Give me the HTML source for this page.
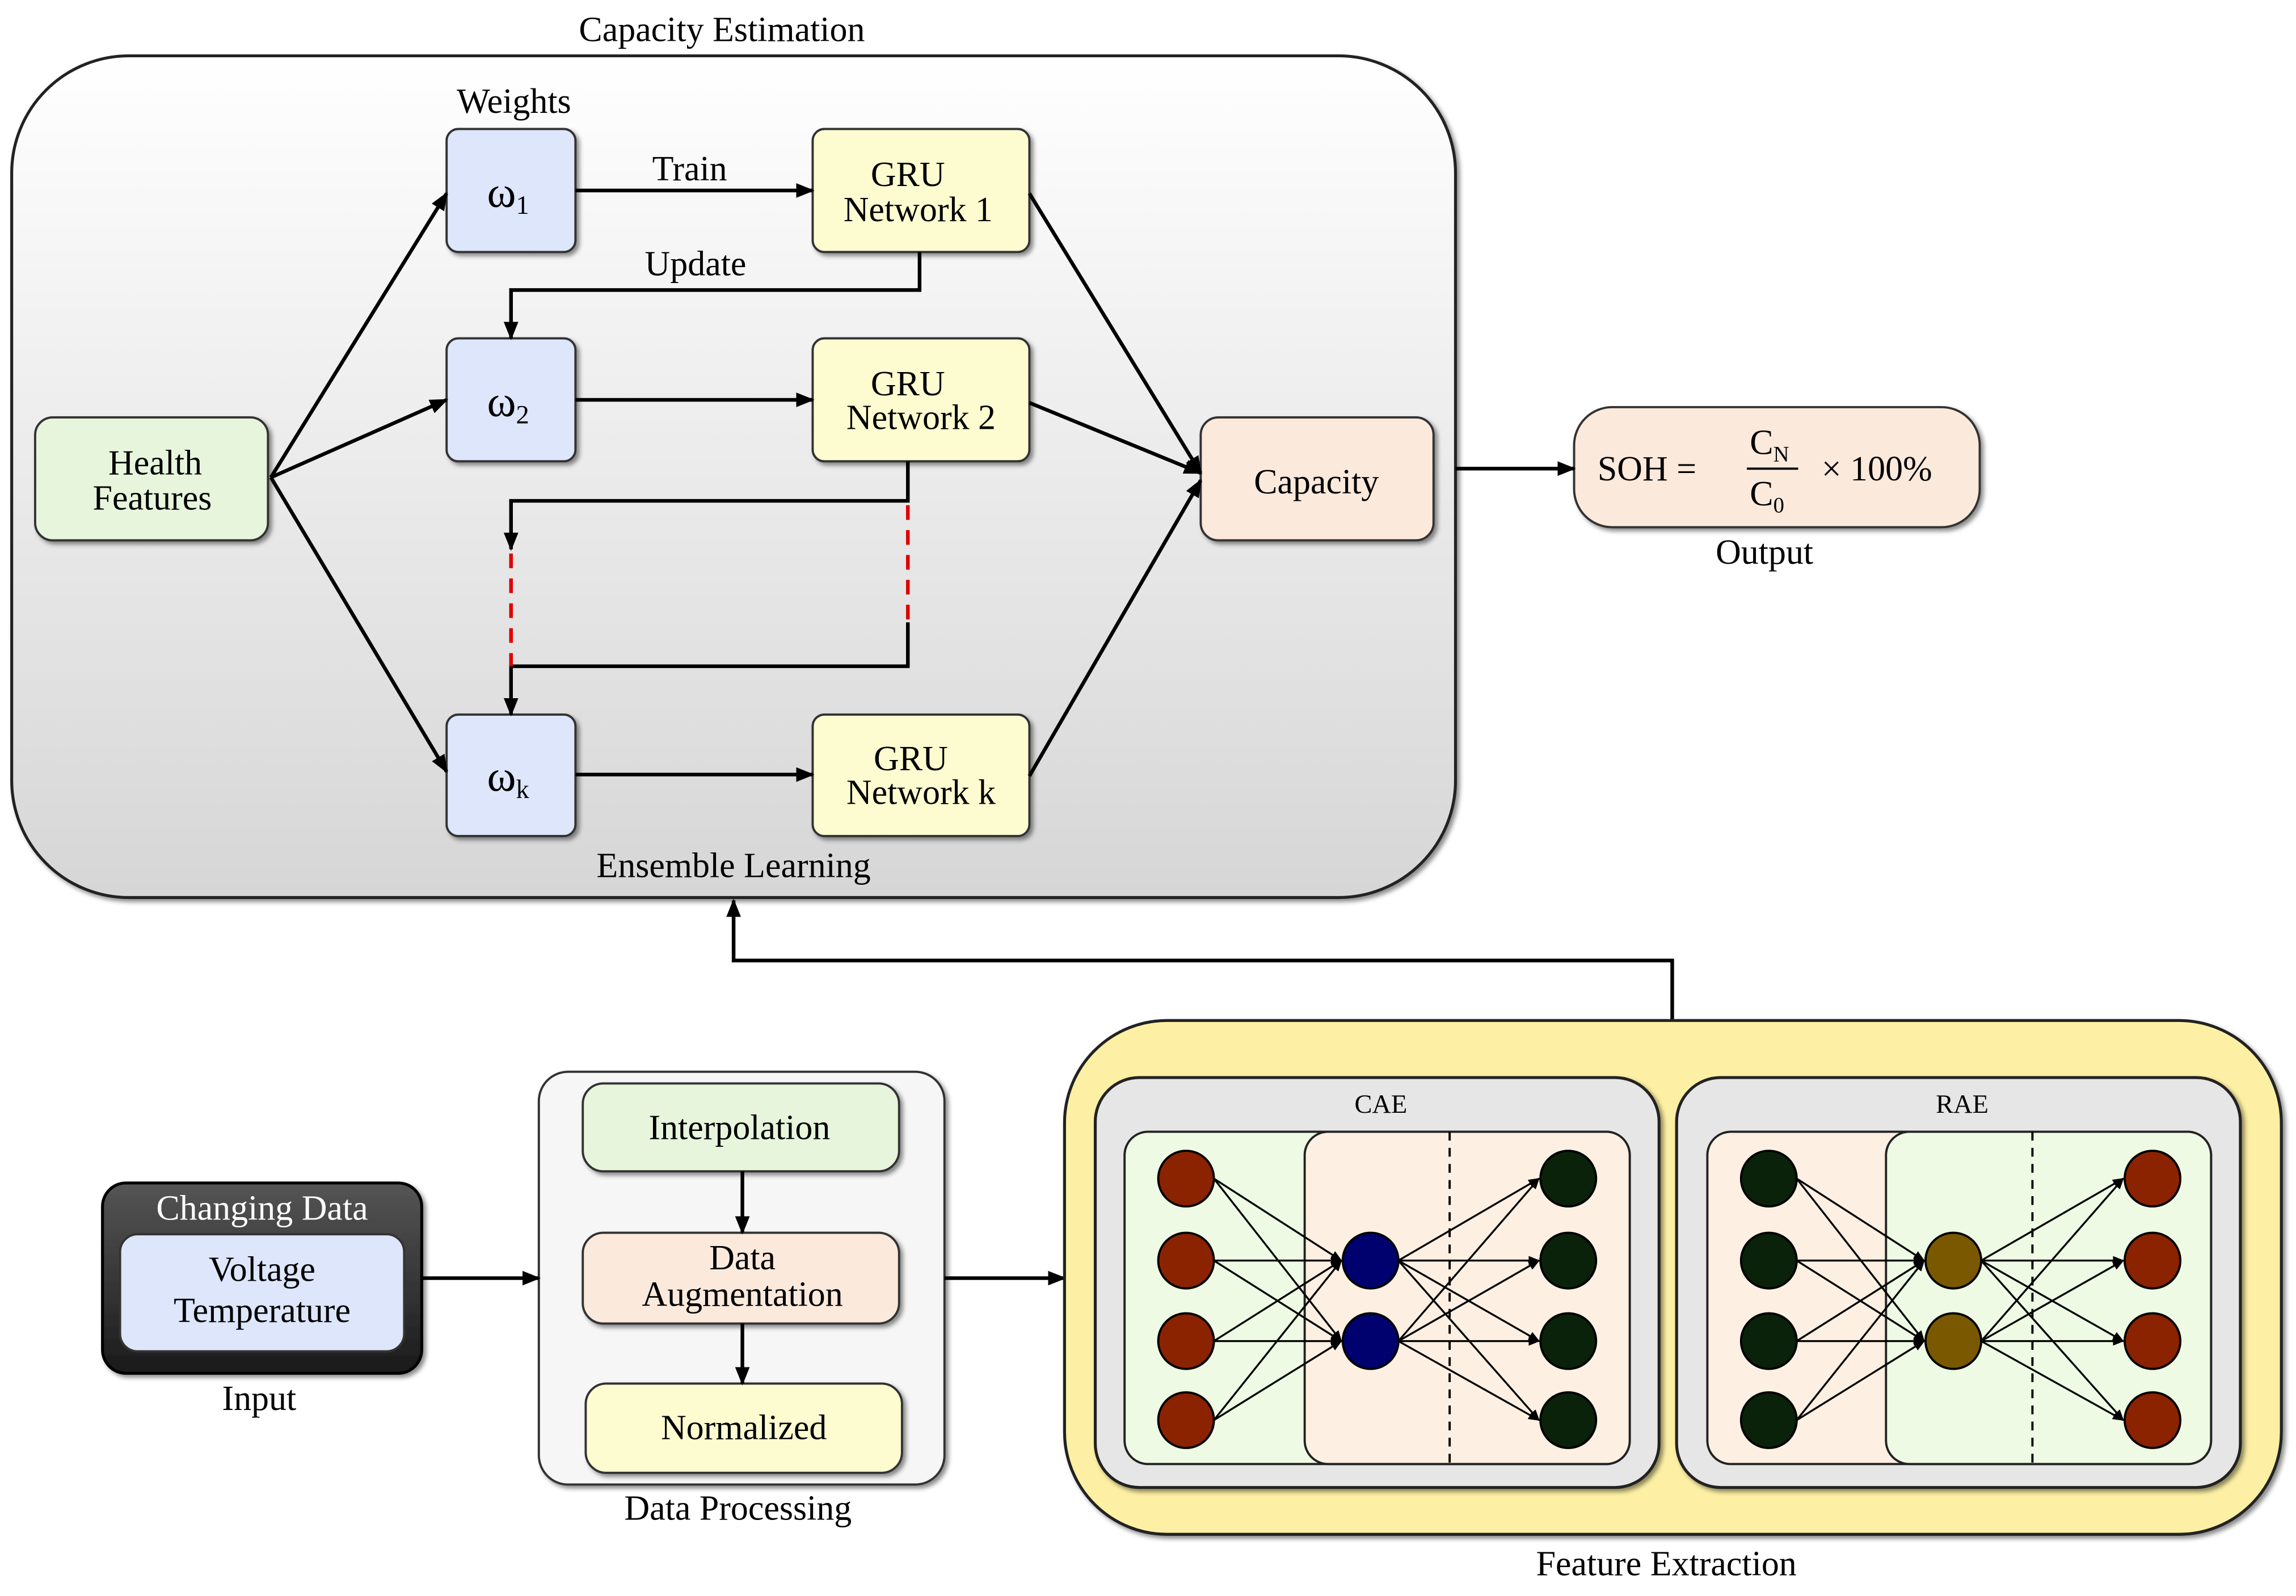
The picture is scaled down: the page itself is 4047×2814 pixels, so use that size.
<!DOCTYPE html>
<html><head><meta charset="utf-8"><style>
html,body{margin:0;padding:0;background:#fff;}
svg{display:block;}
text{font-family:"Liberation Serif",serif;fill:#000;}
</style></head><body>
<svg width="4047" height="2814" viewBox="0 0 1568 1090" xmlns="http://www.w3.org/2000/svg">
<defs>
<marker id="a" viewBox="0 0 10 10" refX="9" refY="5" markerWidth="5" markerHeight="5" orient="auto-start-reverse"><path d="M0,1 L10,5 L0,9 z" fill="#000"/></marker>
<marker id="s" viewBox="0 0 10 10" refX="9" refY="5" markerWidth="6" markerHeight="6" orient="auto"><path d="M0,1 L10,5 L0,9 z" fill="#000"/></marker>
<linearGradient id="big" x1="0" y1="0" x2="0" y2="1"><stop offset="0" stop-color="#ffffff"/><stop offset="1" stop-color="#d6d6d6"/></linearGradient>
<linearGradient id="dk" x1="0" y1="0" x2="0" y2="1"><stop offset="0" stop-color="#555"/><stop offset="1" stop-color="#1a1a1a"/></linearGradient>
<filter id="sh" x="-10%" y="-10%" width="130%" height="130%"><feDropShadow dx="2" dy="2" stdDeviation="1.5" flood-color="#000" flood-opacity="0.45"/></filter>
</defs>

<text x="493" y="28" font-size="24" text-anchor="middle">Capacity Estimation</text>
<rect x="8" y="38" width="986" height="575" rx="80" fill="url(#big)" stroke="#222" stroke-width="2" filter="url(#sh)"/>
<text x="351" y="77" font-size="24" text-anchor="middle">Weights</text>

<g stroke="#333" stroke-width="1.5" filter="url(#sh)">
<rect x="305" y="88" width="88" height="84" rx="8" fill="#dde6fb"/>
<rect x="305" y="231" width="88" height="84" rx="8" fill="#dde6fb"/>
<rect x="305" y="488" width="88" height="83" rx="8" fill="#dde6fb"/>
<rect x="555" y="88" width="148" height="84" rx="8" fill="#fdfcd0"/>
<rect x="555" y="231" width="148" height="84" rx="8" fill="#fdfcd0"/>
<rect x="555" y="488" width="148" height="83" rx="8" fill="#fdfcd0"/>
<rect x="24" y="285" width="159" height="84" rx="12" fill="#e6f5dc"/>
<rect x="820" y="285" width="159" height="84" rx="12" fill="#fbe9dc"/>
<rect x="1075" y="278" width="277" height="82" rx="26" fill="#fbe9dc"/>
</g>
<text x="347" y="141" font-size="30" text-anchor="middle">ω<tspan font-size="18" dy="5">1</tspan></text>
<text x="347" y="284" font-size="30" text-anchor="middle">ω<tspan font-size="18" dy="5">2</tspan></text>
<text x="347" y="540" font-size="30" text-anchor="middle">ω<tspan font-size="18" dy="5">k</tspan></text>
<g font-size="24" text-anchor="middle">
<text x="620" y="127">GRU</text><text x="627" y="151">Network 1</text>
<text x="620" y="270">GRU</text><text x="629" y="293">Network 2</text>
<text x="622" y="526">GRU</text><text x="629" y="549">Network k</text>
<text x="106" y="324">Health</text><text x="104" y="348">Features</text>
<text x="899" y="337">Capacity</text>
<text x="471" y="123">Train</text>
<text x="475" y="188">Update</text>
<text x="501" y="599">Ensemble Learning</text>
<text x="1205" y="385">Output</text>
</g>
<g font-size="24">
<text x="1091" y="328">SOH =</text>
<text x="1195" y="310">C<tspan font-size="15" dy="5">N</tspan></text>
<line x1="1193" y1="320" x2="1228" y2="320" stroke="#000" stroke-width="1.5"/>
<text x="1195" y="345">C<tspan font-size="15" dy="5">0</tspan></text>
<text x="1244" y="328">× 100%</text>
</g>

<!-- Input -->
<rect x="70" y="808" width="218" height="130" rx="16" fill="url(#dk)" stroke="#000" stroke-width="2" filter="url(#sh)"/>
<text x="179" y="833" font-size="24" text-anchor="middle" style="fill:#fff">Changing Data</text>
<rect x="82" y="843" width="194" height="80" rx="12" fill="#dde6fb" stroke="#333" stroke-width="1.5"/>
<text x="179" y="875" font-size="24" text-anchor="middle">Voltage</text>
<text x="179" y="903" font-size="24" text-anchor="middle">Temperature</text>
<text x="177" y="963" font-size="24" text-anchor="middle">Input</text>

<!-- Data processing -->
<rect x="368" y="732" width="277" height="282" rx="20" fill="#f6f6f6" stroke="#333" stroke-width="1.5" filter="url(#sh)"/>
<g stroke="#333" stroke-width="1.5" filter="url(#sh)">
<rect x="398" y="740" width="216" height="60" rx="14" fill="#e6f5dc"/>
<rect x="398" y="842" width="216" height="62" rx="14" fill="#fbe9dc"/>
<rect x="400" y="945" width="216" height="61" rx="14" fill="#fdfcd0"/>
</g>
<g font-size="24" text-anchor="middle">
<text x="505" y="778">Interpolation</text>
<text x="507" y="867">Data</text><text x="507" y="892">Augmentation</text>
<text x="508" y="983">Normalized</text>
<text x="504" y="1038">Data Processing</text>
<text x="1138" y="1076">Feature Extraction</text>
</g>

<g stroke="#000" stroke-width="2.5" fill="none" marker-end="url(#a)">
<line x1="185" y1="326" x2="305" y2="132"/>
<line x1="185" y1="326" x2="305" y2="273"/>
<line x1="185" y1="326" x2="305" y2="527"/>
<line x1="393" y1="130" x2="555" y2="130"/>
<line x1="393" y1="273" x2="555" y2="273"/>
<line x1="393" y1="529" x2="555" y2="529"/>
<polyline points="628,172 628,198 349,198 349,231"/>
<polyline points="620,425 620,455 349,455 349,488"/>
<line x1="703" y1="132" x2="820" y2="323"/>
<line x1="703" y1="275" x2="820" y2="323"/>
<line x1="703" y1="530" x2="820" y2="328"/>
<line x1="994" y1="320" x2="1075" y2="320"/>
<polyline points="1142,697 1142,656 501,656 501,615"/>
<line x1="288" y1="873" x2="368" y2="873"/>
<line x1="645" y1="873" x2="727" y2="873"/>
<line x1="507" y1="800" x2="507" y2="842"/>
<line x1="507" y1="904" x2="507" y2="945"/>
</g>
<polyline points="620,315 620,342 349,342 349,375" stroke="#000" stroke-width="2.5" fill="none" marker-end="url(#a)"/>
<line x1="349" y1="378" x2="349" y2="455" stroke="#d00" stroke-width="2.5" stroke-dasharray="10,7"/>
<line x1="620" y1="345" x2="620" y2="425" stroke="#d00" stroke-width="2.5" stroke-dasharray="10,7"/>

<!-- Feature extraction -->
<rect x="727" y="697" width="831" height="351" rx="70" fill="#fdf0a4" stroke="#222" stroke-width="2" filter="url(#sh)"/>
<g stroke="#222" stroke-width="2" filter="url(#sh)">
<rect x="748" y="736" width="385" height="280" rx="30" fill="#e6e6e6"/>
<rect x="1145" y="736" width="385" height="280" rx="30" fill="#e6e6e6"/>
</g>
<text x="943" y="760" font-size="18" text-anchor="middle">CAE</text>
<text x="1340" y="760" font-size="18" text-anchor="middle">RAE</text>
<g stroke="#222" stroke-width="1.5">
<rect x="768" y="773" width="345" height="227" rx="16" fill="#eefae4"/>
<rect x="891" y="773" width="222" height="227" rx="16" fill="#fdf0e2"/>
<rect x="1166" y="773" width="344" height="227" rx="16" fill="#fdf0e2"/>
<rect x="1288" y="773" width="222" height="227" rx="16" fill="#eefae4"/>
</g>
<line x1="990" y1="773" x2="990" y2="1000" stroke="#000" stroke-width="1.5" stroke-dasharray="6,5"/>
<line x1="1388" y1="773" x2="1388" y2="1000" stroke="#000" stroke-width="1.5" stroke-dasharray="6,5"/>

<g stroke="#000" stroke-width="1.3" marker-end="url(#s)">
<line x1="829" y1="805" x2="916" y2="861"/><line x1="829" y1="805" x2="916" y2="916"/>
<line x1="829" y1="861" x2="916" y2="861"/><line x1="829" y1="861" x2="916" y2="916"/>
<line x1="829" y1="916" x2="916" y2="861"/><line x1="829" y1="916" x2="916" y2="916"/>
<line x1="829" y1="970" x2="916" y2="861"/><line x1="829" y1="970" x2="916" y2="916"/>
<line x1="955" y1="861" x2="1051" y2="805"/><line x1="955" y1="861" x2="1051" y2="861"/><line x1="955" y1="861" x2="1051" y2="916"/><line x1="955" y1="861" x2="1051" y2="970"/>
<line x1="955" y1="916" x2="1051" y2="805"/><line x1="955" y1="916" x2="1051" y2="861"/><line x1="955" y1="916" x2="1051" y2="916"/><line x1="955" y1="916" x2="1051" y2="970"/>
<line x1="1227" y1="805" x2="1314" y2="861"/><line x1="1227" y1="805" x2="1314" y2="916"/>
<line x1="1227" y1="861" x2="1314" y2="861"/><line x1="1227" y1="861" x2="1314" y2="916"/>
<line x1="1227" y1="916" x2="1314" y2="861"/><line x1="1227" y1="916" x2="1314" y2="916"/>
<line x1="1227" y1="970" x2="1314" y2="861"/><line x1="1227" y1="970" x2="1314" y2="916"/>
<line x1="1353" y1="861" x2="1450" y2="805"/><line x1="1353" y1="861" x2="1450" y2="861"/><line x1="1353" y1="861" x2="1450" y2="916"/><line x1="1353" y1="861" x2="1450" y2="970"/>
<line x1="1353" y1="916" x2="1450" y2="805"/><line x1="1353" y1="916" x2="1450" y2="861"/><line x1="1353" y1="916" x2="1450" y2="916"/><line x1="1353" y1="916" x2="1450" y2="970"/>
</g>
<g stroke="#000" stroke-width="1.5">
<circle cx="810" cy="805" r="19" fill="#8b2200"/><circle cx="810" cy="861" r="19" fill="#8b2200"/><circle cx="810" cy="916" r="19" fill="#8b2200"/><circle cx="810" cy="970" r="19" fill="#8b2200"/>
<circle cx="936" cy="861" r="19" fill="#00006e"/><circle cx="936" cy="916" r="19" fill="#00006e"/>
<circle cx="1071" cy="805" r="19" fill="#0a220a"/><circle cx="1071" cy="861" r="19" fill="#0a220a"/><circle cx="1071" cy="916" r="19" fill="#0a220a"/><circle cx="1071" cy="970" r="19" fill="#0a220a"/>
<circle cx="1208" cy="805" r="19" fill="#0a220a"/><circle cx="1208" cy="861" r="19" fill="#0a220a"/><circle cx="1208" cy="916" r="19" fill="#0a220a"/><circle cx="1208" cy="970" r="19" fill="#0a220a"/>
<circle cx="1334" cy="861" r="19" fill="#7a5800"/><circle cx="1334" cy="916" r="19" fill="#7a5800"/>
<circle cx="1470" cy="805" r="19" fill="#8b2200"/><circle cx="1470" cy="861" r="19" fill="#8b2200"/><circle cx="1470" cy="916" r="19" fill="#8b2200"/><circle cx="1470" cy="970" r="19" fill="#8b2200"/>
</g>
</svg>
</body></html>
